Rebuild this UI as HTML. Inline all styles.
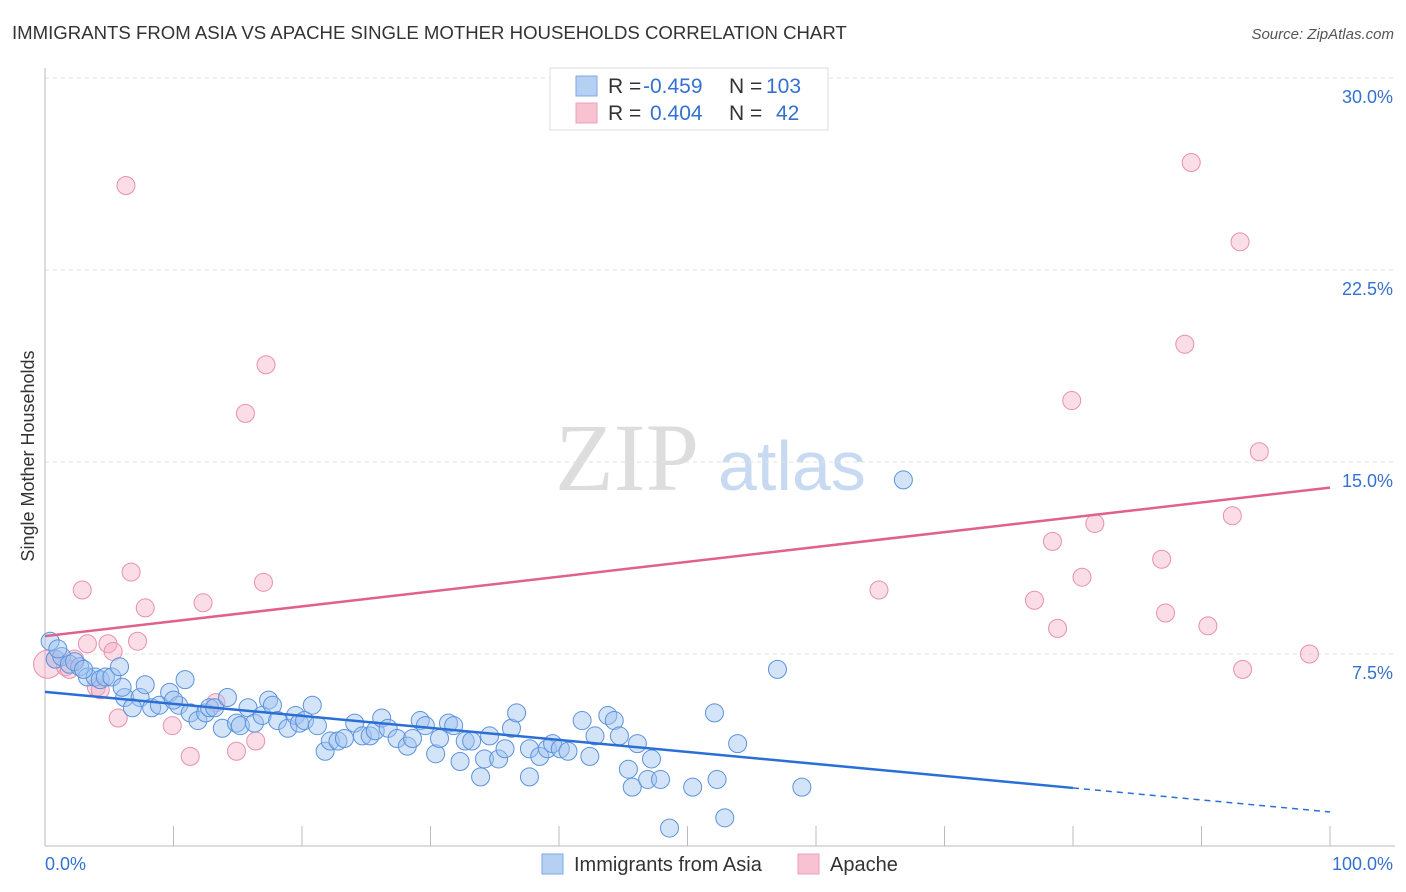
<!DOCTYPE html>
<html><head><meta charset="utf-8"><style>
body{margin:0;background:#fff;font-family:"Liberation Sans",sans-serif;}
#wrap{position:relative;width:1406px;height:892px;overflow:hidden;}
</style></head><body>
<div id="wrap">
<svg id="svg" width="1406" height="892" xmlns="http://www.w3.org/2000/svg" font-family="Liberation Sans, sans-serif">
<text x="12" y="39" font-size="18.6" fill="#333">IMMIGRANTS FROM ASIA VS APACHE SINGLE MOTHER HOUSEHOLDS CORRELATION CHART</text>
<text x="1394" y="39" font-size="15" fill="#555" text-anchor="end" font-style="italic">Source: ZipAtlas.com</text>
<text transform="translate(34,456) rotate(-90)" font-size="18" fill="#333" text-anchor="middle">Single Mother Households</text>
<g><text x="555" y="490" font-size="96" fill="#ddd" font-family="Liberation Serif, serif">ZIP</text><text x="718" y="490" font-size="70" fill="#c8daf2">atlas</text></g>
<g id="grid"></g><g id="pts"></g><g id="lines"></g>
<g>
<rect x="550" y="68" width="278" height="62" fill="#fff" stroke="#ddd"/>
<rect x="576" y="76" width="21" height="20" fill="#b6d0f3" stroke="#7fa8e0"/>
<rect x="576" y="103" width="21" height="20" fill="#f7c3d3" stroke="#eba0b8"/>
<text x="608" y="93" font-size="21" fill="#333">R = </text><text x="643" y="93" font-size="21" fill="#3571d0">-0.459</text>
<text x="729" y="93" font-size="21" fill="#333">N = </text><text x="766" y="93" font-size="21" fill="#3571d0">103</text>
<text x="608" y="120" font-size="21" fill="#333">R = </text><text x="650" y="120" font-size="21" fill="#3571d0">0.404</text>
<text x="729" y="120" font-size="21" fill="#333">N = </text><text x="776" y="120" font-size="21" fill="#3571d0">42</text>
</g>
<g>
<rect x="542" y="854" width="21" height="20" fill="#b6d0f3" stroke="#7fa8e0"/>
<text x="574" y="871" font-size="20" fill="#333">Immigrants from Asia</text>
<rect x="798" y="854" width="21" height="20" fill="#f7c3d3" stroke="#eba0b8"/>
<text x="830" y="871" font-size="20" fill="#333">Apache</text>
</g>
</svg></div>
<script>
const blueX=[0.4,0.8,1.3,1.9,2.7,2.3,3.3,3.9,4.3,4.7,5.2,5.8,6.2,7.4,7.8,6.8,8.3,8.9,9.7,10.4,10.9,11.3,11.9,12.5,12.8,13.2,13.8,14.2,14.9,15.2,15.8,16.3,16.9,17.4,17.7,18.1,18.9,19.5,19.8,20.2,20.8,21.2,21.8,22.2,22.8,23.3,24.1,24.7,25.3,25.7,26.2,26.7,27.4,28.2,28.6,29.2,29.6,30.4,30.7,31.4,31.8,32.3,32.7,33.2,33.9,34.2,34.6,35.3,35.8,36.3,36.7,37.7,37.7,38.5,39.1,39.5,40.1,40.7,41.8,42.4,42.8,43.8,44.3,44.7,45.4,45.7,46.1,46.9,47.2,47.9,48.6,50.4,52.1,52.3,52.9,53.9,57.0,58.9,66.8,1.0,3.0,6.0,10.0];
const blueY=[8.0,7.3,7.4,7.1,7.0,7.2,6.6,6.6,6.5,6.6,6.6,7.0,5.8,5.8,6.3,5.4,5.4,5.5,6.0,5.5,6.5,5.2,4.9,5.2,5.4,5.4,4.6,5.8,4.8,4.7,5.4,4.8,5.1,5.7,5.5,4.9,4.6,5.1,4.8,4.9,5.5,4.7,3.7,4.1,4.1,4.2,4.8,4.3,4.3,4.5,5.0,4.6,4.2,3.9,4.2,4.9,4.7,3.6,4.2,4.8,4.7,3.3,4.1,4.1,2.7,3.4,4.3,3.4,3.8,4.6,5.2,2.7,3.8,3.5,3.8,4.0,3.8,3.7,4.9,3.5,4.3,5.1,4.9,4.3,3.0,2.3,4.0,2.6,3.4,2.6,0.7,2.3,5.2,2.6,1.1,4.0,6.9,2.3,14.3,7.7,6.9,6.2,5.7];
const pinkX=[0.2,0.8,1.6,2.3,2.9,3.3,4.0,4.3,4.9,5.3,5.7,6.3,6.7,7.2,7.8,9.9,11.3,12.3,13.3,14.9,15.6,16.4,17.0,17.2,89.2,93.0,88.7,79.9,94.5,81.7,78.4,92.4,86.9,80.7,64.9,77.0,87.2,78.8,90.5,98.4,93.2,1.9];
const pinkY=[7.1,7.3,7.0,7.3,10.0,7.9,6.2,6.1,7.9,7.6,5.0,25.8,10.7,8.0,9.3,4.7,3.5,9.5,5.6,3.7,16.9,4.1,10.3,18.8,26.7,23.6,19.6,17.4,15.4,12.6,11.9,12.9,11.2,10.5,10.0,9.6,9.1,8.5,8.6,7.5,6.9,6.9];
const yTicks=[7.5,15.0,22.5,30.0];
const xTicks=[0,10,20,30,40,50,60,70,80,90,100];
const blueTrend=[6.02,1.33];
const pinkTrend=[8.2,14.0];
const blueSolidEnd=80;
const X=v=>45+v*12.85, Y=v=>846-v*25.6;
const NS="http://www.w3.org/2000/svg";
function mk(tag,at,parent){const e=document.createElementNS(NS,tag);for(const k in at)e.setAttribute(k,at[k]);parent.appendChild(e);return e;}
const grid=document.getElementById('grid'),pts=document.getElementById('pts'),lines=document.getElementById('lines'),svg=document.getElementById('svg');
yTicks.forEach(t=>{
 const l=mk('line',{x1:45,x2:1395,y1:Y(t),y2:Y(t),stroke:'#e2e2e2','stroke-dasharray':'4,4'},grid);
 
 
 const tx=mk('text',{x:1393,y:Y(t)+25,'font-size':18,fill:'#3571d0','text-anchor':'end'},svg);
 tx.textContent=t.toFixed(1)+'%';
 
 
});
const ax=mk('line',{x1:45,x2:45,y1:68,y2:846,stroke:'#bbb'},grid);


const bx=mk('line',{x1:45,x2:1395,y1:846,y2:846,stroke:'#bbb'},grid);


xTicks.forEach(t=>{
 const l=mk('line',{x1:X(t),x2:X(t),y1:826,y2:846,stroke:'#bbb'},grid);
 
 
});
[[0,'0.0%','start',45],[100,'100.0%','end',1393]].forEach(a=>{
 const tx=mk('text',{x:a[3],y:870,'font-size':18,fill:'#3571d0','text-anchor':a[2]},svg);
 tx.textContent=a[1];
 
 
});
pinkX.forEach((x,i)=>{
 const c=mk('circle',{cx:X(x),cy:Y(pinkY[i]),r:i==0?14:9,fill:'rgba(245,170,195,0.4)',stroke:'#e890ad','stroke-width':1},pts);
 
 
});
blueX.forEach((x,i)=>{
 const c=mk('circle',{cx:X(x),cy:Y(blueY[i]),r:9,fill:'rgba(160,196,240,0.45)',stroke:'#5b93dd','stroke-width':1},pts);
 
 
});
const by=v=>blueTrend[0]+(blueTrend[1]-blueTrend[0])*v/100;
let l1=mk('line',{x1:X(0),y1:Y(by(0)),x2:X(blueSolidEnd),y2:Y(by(blueSolidEnd)),stroke:'#2a6fd6','stroke-width':2.5},lines);


let l2=mk('line',{x1:X(blueSolidEnd),y1:Y(by(blueSolidEnd)),x2:X(100),y2:Y(by(100)),stroke:'#2a6fd6','stroke-width':1.5,'stroke-dasharray':'6,5'},lines);


let l3=mk('line',{x1:X(0),y1:Y(pinkTrend[0]),x2:X(100),y2:Y(pinkTrend[1]),stroke:'#e0618d','stroke-width':2.5},lines);


</script>
</body></html>
